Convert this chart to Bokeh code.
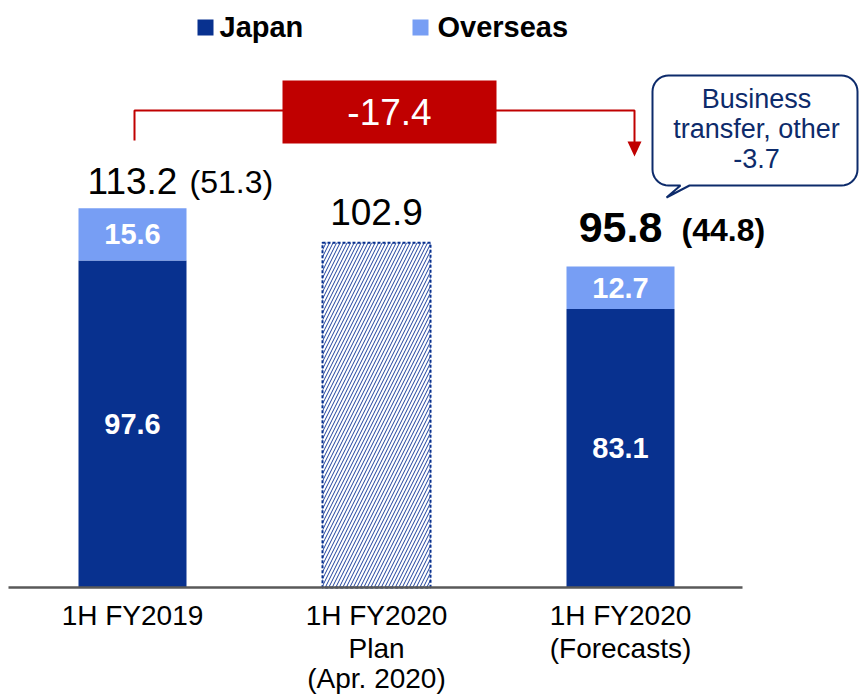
import math
from bokeh.plotting import figure
from bokeh.models import Range1d, ColumnDataSource
from bokeh.core.properties import value
from bokeh.embed import file_html
from bokeh.resources import INLINE

# ---------------- data ----------------
categories = ["1H FY2019", "1H FY2020\nPlan\n(Apr. 2020)", "1H FY2020\n(Forecasts)"]
series_names = ["Japan", "Overseas"]
actual_idx = [0, 2]            # bars with actual Japan/Overseas split
japan = [97.6, 83.1]
overseas = [15.6, 12.7]
plan_idx = 1
plan_value = 102.9
totals = [113.2, 102.9, 95.8]
overseas_share = ["(51.3)", "", "(44.8)"]
change_label = "-17.4"
callout_lines = ["Business", "transfer, other", "-3.7"]

# ---------------- style ----------------
JAPAN_C = "#08318f"
OVER_C = "#779ef4"
RED = "#c00000"
NAVY = "#0d2b6b"
FONT = "Liberation Sans"

W, H = 859, 694
PX0, PX_UNIT = 10, 244      # canvas px of x=0 and px per category
PY0, PY_UNIT = 587, 3.35    # canvas px of y=0 and px per unit


def X(px):
    return (px - PX0) / PX_UNIT


def Y(py):
    return (PY0 - py) / PY_UNIT


p = figure(width=W, height=H, output_backend="svg", toolbar_location=None,
           x_range=Range1d(X(0), X(W)), y_range=Range1d(Y(H), Y(0)),
           x_axis_location=None, y_axis_location=None,
           min_border_left=0, min_border_right=0, min_border_top=0, min_border_bottom=0)
p.outline_line_color = None
p.xgrid.visible = False
p.ygrid.visible = False
p.background_fill_color = "white"

xc = [i + 0.5 for i in range(len(categories))]
bw = 108 / PX_UNIT

# actual stacked bars
ax = [xc[i] for i in actual_idx]
tops = [j + o for j, o in zip(japan, overseas)]
src = ColumnDataSource(dict(x=ax, japan=japan, tops=tops,
                            jy=[j / 2 for j in japan],
                            oy=[j + o / 2 for j, o in zip(japan, overseas)],
                            jt=[f"{v:.1f}" for v in japan],
                            ot=[f"{v:.1f}" for v in overseas]))
p.vbar(x="x", bottom=0, top="japan", width=bw, fill_color=JAPAN_C, line_color=None, source=src)
p.vbar(x="x", bottom="japan", top="tops", width=bw, fill_color=OVER_C, line_color=None, source=src)
for col, tcol in (("jy", "jt"), ("oy", "ot")):
    p.text(x="x", y=col, text=tcol, source=src, text_color="white",
           text_font=value(FONT), text_font_style="bold", text_font_size="29px",
           text_align="center", text_baseline="middle")

# plan bar (hatched)
p.vbar(x=[xc[plan_idx]], bottom=0, top=[plan_value], width=bw, fill_color="white",
       hatch_pattern="/", hatch_color="#1c3f9c", hatch_scale=7, hatch_weight=1.0,
       line_color=JAPAN_C, line_dash="3 2", line_width=2)

# baseline (category axis line)
p.segment(x0=[X(8)], x1=[float(len(categories))], y0=[0], y1=[0],
          line_color="#595959", line_width=2.5)

# category labels
lx, ly, lt, lo = [], [], [], []
line_offsets = [28, 61, 91]
for i, cat in enumerate(categories):
    for k, line in enumerate(cat.split("\n")):
        lx.append(xc[i]); ly.append(0); lt.append(line); lo.append(line_offsets[k])
p.text(x=lx, y=ly, text=lt, y_offset=lo, text_color="black", text_font=value(FONT),
       text_font_size="28px", text_align="center", text_baseline="middle")

# totals above bars
p.text(x=[xc[0], xc[1]], y=[totals[0], totals[1]],
       text=[f"{totals[0]:.1f}", f"{totals[1]:.1f}"],
       y_offset=[-27, -31], text_color="black", text_font=value(FONT),
       text_font_size="37px", text_align="center", text_baseline="middle")
p.text(x=[xc[2]], y=[totals[2]], text=[f"{totals[2]:.1f}"], y_offset=[-39],
       text_color="black", text_font=value(FONT), text_font_style="bold",
       text_font_size="43px", text_align="center", text_baseline="middle")
p.text(x=[xc[0]], y=[totals[0]], text=[overseas_share[0]], x_offset=[57], y_offset=[-26],
       text_color="black", text_font=value(FONT), text_font_size="32px",
       text_align="left", text_baseline="middle")
p.text(x=[xc[2]], y=[totals[2]], text=[overseas_share[2]], x_offset=[61], y_offset=[-37],
       text_color="black", text_font=value(FONT), text_font_style="bold",
       text_font_size="32px", text_align="left", text_baseline="middle")

# red change bracket
p.line(x=[X(134), X(134), X(634), X(634)], y=[Y(140), Y(110), Y(110), Y(142)],
       line_color=RED, line_width=2)
p.patch(x=[X(627), X(641), X(634)], y=[Y(141), Y(141), Y(156)], fill_color=RED, line_color=None)
p.quad(left=[X(282)], right=[X(496)], top=[Y(80)], bottom=[Y(143)], fill_color=RED, line_color=None)
p.text(x=[X(389)], y=[Y(111)], text=[change_label], text_color="white",
       text_font=value(FONT), text_font_size="37px", text_align="center",
       text_baseline="middle")


# speech bubble
def bubble(l, t, r, b, rad, tail_r, tip, tail_l):
    pts = []

    def arc(cx, cy, a0, a1):
        for k in range(10):
            a = math.radians(a0 + (a1 - a0) * k / 9)
            pts.append((cx + rad * math.cos(a), cy + rad * math.sin(a)))
    arc(l + rad, t + rad, 180, 270)
    arc(r - rad, t + rad, 270, 360)
    arc(r - rad, b - rad, 0, 90)
    pts.append((tail_r, b))
    pts.append(tip)
    pts.append((tail_l, b))
    arc(l + rad, b - rad, 90, 180)
    return [X(a) for a, _ in pts], [Y(c) for _, c in pts]


bx, by = bubble(652, 75, 857, 185, 16, 689, (666, 197), 680)
p.patch(bx, by, fill_color="white", line_color=NAVY, line_width=2)
p.text(x=[X(756)] * 3, y=[Y(98), Y(128), Y(158)], text=callout_lines, text_color=NAVY,
       text_font=value(FONT), text_font_size="27px", text_align="center",
       text_baseline="middle")

# legend
p.rect(x=[X(205), X(420)], y=[Y(27)] * 2, width=16 / PX_UNIT, height=16 / PY_UNIT,
       fill_color=[JAPAN_C, OVER_C], line_color=None)
p.text(x=[X(219), X(437)], y=[Y(26)] * 2, text=series_names, text_color="black",
       text_font=value(FONT), text_font_style="bold", text_font_size="29px",
       text_align="left", text_baseline="middle")

open("out.html", "w").write(file_html(p, INLINE))
